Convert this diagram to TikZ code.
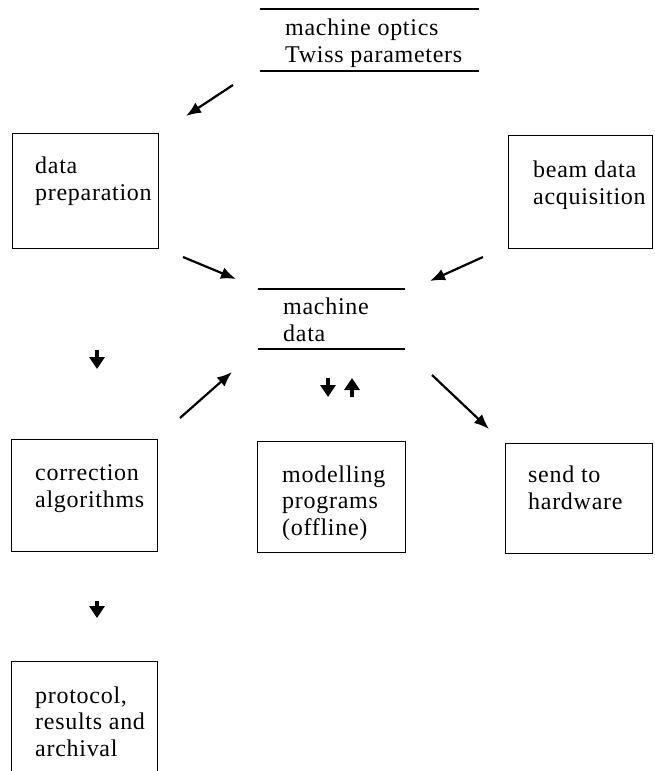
\documentclass[tikz,border=0pt]{standalone}
\usepackage{fontspec}
\setmainfont{Liberation Serif}[LetterSpace=3]
\usetikzlibrary{arrows.meta}
\begin{document}
\begin{tikzpicture}[x=1pt,y=-1pt,
  box/.style={draw, line width=1.4pt, anchor=north west, inner sep=0pt},
  txt/.style={anchor=base west, align=left, inner sep=0pt, font=\fontsize{24}{26.5}\selectfont},
  rulel/.style={line width=2.2pt},
  arr/.style={line width=2.2pt, -{Latex[length=15pt,width=12pt]}},
  fat/.style={line width=4.5pt, -{Triangle[length=12pt,width=15pt]}}]
\useasboundingbox (0,0) rectangle (654,771);
% title block (anchor = baseline of last line)
\node[txt] (optics) at (285,62) {machine optics\\Twiss parameters};
\draw[rulel] (260,9) coordinate (o1) -- (479,9) coordinate (o2);
\draw[rulel] (260,71) coordinate (o3) -- (479,71) coordinate (o4);
% machine data block
\node[txt] (mdata) at (283,341) {machine\\data};
\draw[rulel] (258,289) coordinate (m1) -- (405,289) coordinate (m2);
\draw[rulel] (258,349) coordinate (m3) -- (405,349) coordinate (m4);
% boxes
\node[box, minimum width=146pt, minimum height=115pt] (prep) at (12,133) {};
\node[txt] (prept) at (35,200) {data\\preparation};
\node[box, minimum width=144pt, minimum height=113pt] (beam) at (508,135) {};
\node[txt] (beamt) at (533,204) {beam data\\acquisition};
\node[box, minimum width=146pt, minimum height=112pt] (corr) at (11,439) {};
\node[txt] (corrt) at (35,507) {correction\\algorithms};
\node[box, minimum width=148pt, minimum height=111pt] (model) at (257,441) {};
\node[txt] (modelt) at (282,535) {modelling\\programs\\(offline)};
\node[box, minimum width=147pt, minimum height=110pt] (send) at (505,443) {};
\node[txt] (sendt) at (528,509) {send to\\hardware};
\node[box, minimum width=146pt, minimum height=110pt] (prot) at (11,661) {};
\node[txt] (prott) at (35,756) {protocol,\\results and\\archival};
% arrow end points
\coordinate (a1s) at (233,85);  \coordinate (a1e) at (186,116);
\coordinate (a2s) at (183,257); \coordinate (a2e) at (236,279);
\coordinate (a3s) at (483,257); \coordinate (a3e) at (430,281);
\coordinate (a4s) at (180,418); \coordinate (a4e) at (232,372);
\coordinate (a5s) at (432,375); \coordinate (a5e) at (489,429);
\coordinate (f1s) at (97,350);  \coordinate (f1e) at (97,369);
\coordinate (f2s) at (328,378); \coordinate (f2e) at (328,397);
\coordinate (f3s) at (352,397); \coordinate (f3e) at (352,378);
\coordinate (f4s) at (97,601);  \coordinate (f4e) at (97,618);
\draw[arr] (a1s) -- (a1e);
\draw[arr] (a2s) -- (a2e);
\draw[arr] (a3s) -- (a3e);
\draw[arr] (a4s) -- (a4e);
\draw[arr] (a5s) -- (a5e);
\draw[fat] (f1s) -- (f1e);
\draw[fat] (f2s) -- (f2e);
\draw[fat] (f3s) -- (f3e);
\draw[fat] (f4s) -- (f4e);
\end{tikzpicture}
\end{document}
